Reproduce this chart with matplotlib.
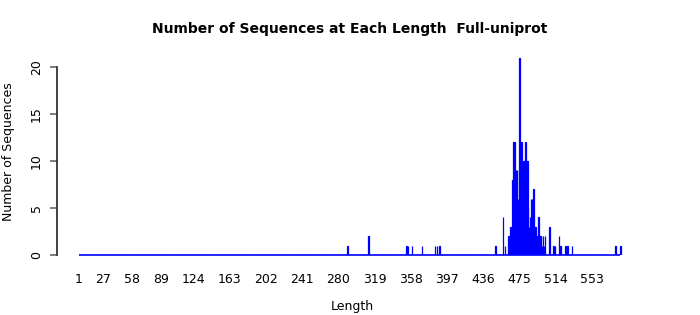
import numpy as np
import matplotlib
matplotlib.use("Agg")
import matplotlib.pyplot as plt

# ---- data ----
title = "Number of Sequences at Each Length  Full-uniprot"
x_label = "Length"
y_label = "Number of Sequences"
min_len = 1
max_len = 583
lengths = [290, 312, 353, 355, 359, 370, 384, 386, 389, 449, 457, 459, 463,
           465, 466, 467, 468, 469, 470, 471, 472, 473, 474, 475, 476, 477,
           478, 479, 480, 481, 482, 483, 484, 485, 486, 487, 488, 489, 490,
           491, 492, 493, 494, 495, 496, 497, 498, 499, 500, 501, 502, 507,
           511, 513, 517, 519, 524, 526, 531, 578, 583]
counts = [1, 2, 1, 1, 1, 1, 1, 1, 1, 1, 4, 1, 2,
          3, 2, 8, 12, 12, 4, 9, 9, 6, 9, 21, 8, 12,
          5, 10, 7, 12, 10, 10, 5, 3, 4, 6, 6, 2, 7,
          3, 3, 2, 1, 4, 2, 2, 2, 1, 2, 1, 2, 3,
          1, 1, 2, 1, 1, 1, 1, 1, 1]
x_ticks = [1, 27, 58, 89, 124, 163, 202, 241, 280, 319, 358, 397, 436, 475, 514, 553]
y_ticks = [0, 5, 10, 15, 20]

# full range of lengths with zero counts where nothing was observed
all_lengths = np.arange(min_len, max_len + 1)
all_counts = np.zeros_like(all_lengths)
for L, c in zip(lengths, counts):
    all_counts[L - min_len] = c

W, H = 700, 315
fig = plt.figure(figsize=(W / 100, H / 100), dpi=100)

px_per_unit_x = 0.93
x_lo, x_hi = -22.6, 612
px_per_unit_y = 9.4
y_lo, y_hi = 0, 22

left_px = 57
bottom_px = 255
width_px = (x_hi - x_lo) * px_per_unit_x
height_px = (y_hi - y_lo) * px_per_unit_y
ax = fig.add_axes([left_px / W, (H - bottom_px) / H, width_px / W, height_px / H])

ax.bar(all_lengths, all_counts, width=0.7, color="blue", edgecolor="blue",
       linewidth=0.9)
# baseline spanning the full length range
ax.hlines(0, all_lengths.min(), all_lengths.max(), color="blue",
          linewidth=1.2, clip_on=False, zorder=3)

ax.set_xlim(x_lo, x_hi)
ax.set_ylim(y_lo, y_hi)

for s in ["top", "right", "bottom"]:
    ax.spines[s].set_visible(False)
ax.spines["left"].set_bounds(0, 20)
ax.spines["left"].set_color("#222222")
ax.spines["left"].set_linewidth(1.2)

ax.set_xticks(x_ticks)
ax.set_xticklabels([str(t) for t in x_ticks], fontsize=9)
ax.set_yticks(y_ticks)
ax.set_yticklabels([str(t) for t in y_ticks], fontsize=9, rotation=90,
                   va="center")
ax.tick_params(axis="x", length=0, pad=13)
ax.tick_params(axis="y", length=5, width=1.2, color="#666666", pad=5)

ax.set_xlabel(x_label, fontsize=9, labelpad=10)
ax.set_ylabel(y_label, fontsize=9, labelpad=11)
fig.text(350 / W, 1 - 29 / H, title, fontsize=10, fontweight="bold",
         ha="center", va="center")

fig.savefig("out.png", dpi=100)
